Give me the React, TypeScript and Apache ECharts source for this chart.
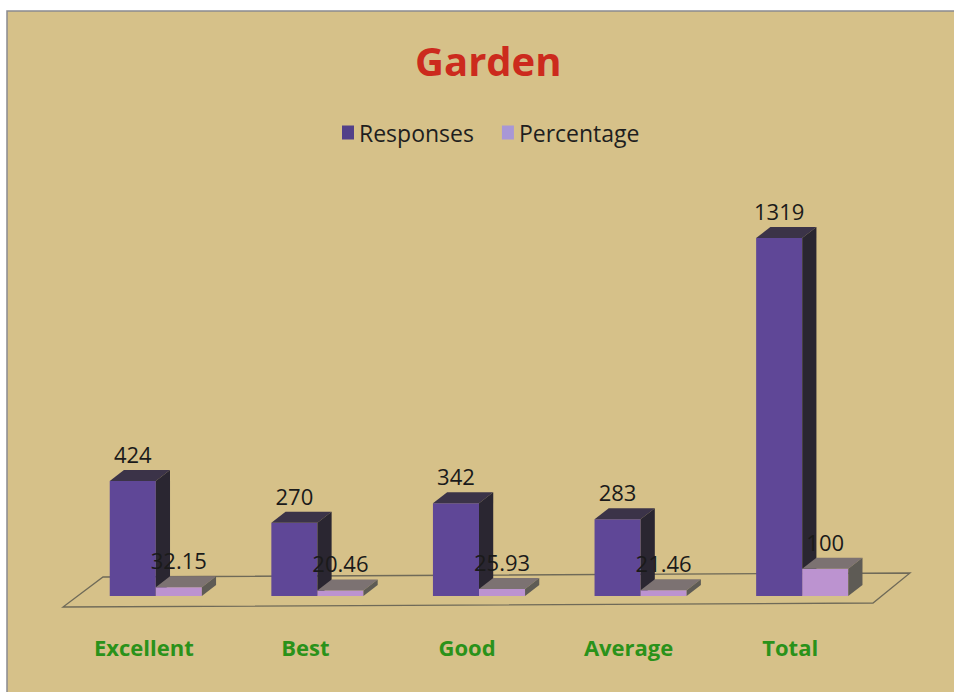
import React, { useEffect, useRef } from "react";
import * as echarts from "echarts";

const categories = ["Excellent", "Best", "Good", "Average", "Total"];
const responses = [424, 270, 342, 283, 1319];
const percentage = [32.15, 20.46, 25.93, 21.46, 100];
const seriesNames = ["Responses", "Percentage"];

const FONT = "'Open Sans', 'Liberation Sans', sans-serif";

const palettes = [
  { front: "#5f4797", top: "#3b3348", side: "#2a2631", legend: "#524089" },
  { front: "#bc93d0", top: "#7c7272", side: "#5e5b55", legend: "#a897d6" },
];

function barRenderer(s: number) {
  return (params: any, api: any) => {
    const idx = api.value(0);
    const val = api.value(1);
    const base = api.coord([idx, 0]);
    const top = api.coord([idx, val]);
    const band = api.size([1, 0])[0];
    const w = band * 0.285;
    const dx = band * 0.088;
    const dy = 11;
    const x0 = base[0] - (s === 0 ? w : 0);
    const x1 = x0 + w;
    const yb = base[1];
    const yt = top[1];
    const p = palettes[s];
    return {
      type: "group",
      children: [
        { type: "rect", shape: { x: x0, y: yt, width: w, height: yb - yt }, style: { fill: p.front } },
        {
          type: "polygon",
          shape: { points: [[x0, yt], [x1, yt], [x1 + dx, yt - dy], [x0 + dx, yt - dy]] },
          style: { fill: p.top },
        },
        {
          type: "polygon",
          shape: { points: [[x1, yt], [x1 + dx, yt - dy], [x1 + dx, yb - dy], [x1, yb]] },
          style: { fill: p.side },
        },
        {
          type: "text",
          style: {
            text: String(val),
            x: x0 + w / 2,
            y: yt - dy - 16,
            align: "center",
            verticalAlign: "middle",
            font: `22px ${FONT}`,
            fill: "#1a1a1a",
          },
        },
      ],
    };
  };
}

function floorRenderer(params: any) {
  const c = params.coordSys;
  const xl = c.x;
  const xr = c.x + c.width;
  const yb = c.y + c.height;
  return {
    type: "polygon",
    shape: {
      points: [
        [xl + 28, yb - 19],
        [xr + 27, yb - 23],
        [xr - 10, yb + 7],
        [xl - 12, yb + 11],
      ],
    },
    style: { fill: "rgba(0,0,0,0)", stroke: "#6f6a58", lineWidth: 1.3 },
  };
}

export default function App() {
  const ref = useRef<HTMLDivElement>(null);
  useEffect(() => {
    if (!ref.current) return;
    const chart = echarts.init(ref.current, undefined, { renderer: "svg" });
    chart.setOption({
      animation: false,
      backgroundColor: "#ffffff",
      graphic: [
        {
          type: "rect",
          z: -10,
          shape: { x: 7, y: 11, width: 960, height: 700 },
          style: { fill: "#d6c189", stroke: "#8a8a90", lineWidth: 1.5 },
        },
      ],
      title: {
        text: "Garden",
        left: 410,
        top: 35,
        textStyle: { fontFamily: FONT, fontSize: 40, fontWeight: "bold", color: "#cc2a1d" },
      },
      legend: {
        top: 116,
        left: 337,
        icon: "rect",
        itemWidth: 12,
        itemHeight: 14,
        itemGap: 28,
        textStyle: { fontFamily: FONT, fontSize: 23, color: "#1e1e1e" },
        data: seriesNames.map((n, i) => ({ name: n, itemStyle: { color: palettes[i].legend } })),
      },
      grid: { left: 75, right: 71, top: 216, bottom: 96 },
      xAxis: {
        type: "category",
        data: categories,
        axisLine: { show: false },
        axisTick: { show: false },
        splitLine: { show: false },
        axisLabel: {
          margin: 40,
          padding: [0, 24, 0, 0],
          fontFamily: FONT,
          fontSize: 22,
          fontWeight: "bold",
          color: "#2a921a",
        },
      },
      yAxis: { type: "value", min: 0, max: 1400, show: false, splitLine: { show: false } },
      series: [
        {
          type: "custom",
          name: "floor",
          silent: true,
          z: 1,
          renderItem: floorRenderer,
          data: [[0, 0]],
          encode: { x: 0, y: 1 },
        },
        {
          type: "custom",
          name: seriesNames[0],
          z: 2,
          itemStyle: { color: palettes[0].legend },
          renderItem: barRenderer(0),
          data: responses.map((v, i) => [i, v]),
          encode: { x: 0, y: 1 },
        },
        {
          type: "custom",
          name: seriesNames[1],
          z: 3,
          itemStyle: { color: palettes[1].legend },
          renderItem: barRenderer(1),
          data: percentage.map((v, i) => [i, v]),
          encode: { x: 0, y: 1 },
        },
      ],
    });
    return () => chart.dispose();
  }, []);
  return (
    <div
      ref={ref}
      style={{ position: "fixed", left: 0, top: 0, width: 954, height: 692 }}
    />
  );
}
